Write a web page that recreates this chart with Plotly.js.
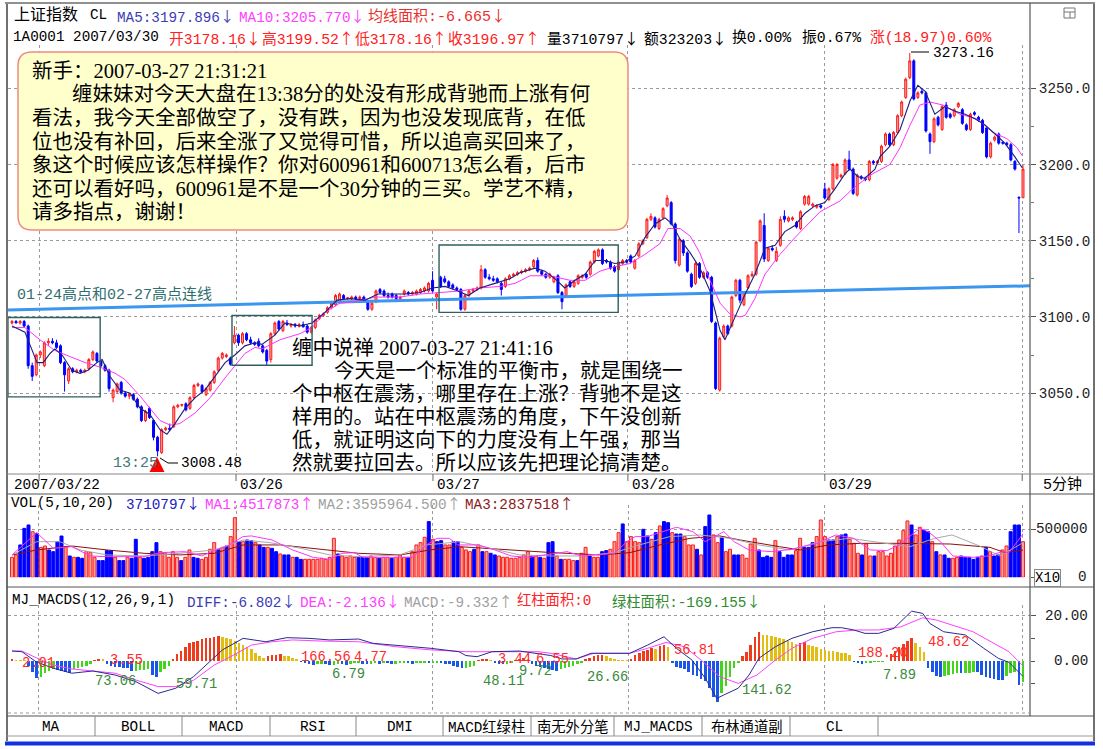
<!DOCTYPE html>
<html><head><meta charset="utf-8">
<script src="https://cdn.plot.ly/plotly-3.0.1.min.js"></script>
<style>html,body{margin:0;padding:0;background:#fff;}#chart{width:1103px;height:749px;}</style>
</head><body><div id="chart"></div>
<script>
// ---------- DATA (5-minute bars, 上证指数 2007/03/22 - 2007/03/30) ----------
const open = [3096,3097,3096,3097,3094,3068,3062,3075,3068,3083,
3084,3083,3081,3070,3058,3066,3064,3065,3064,3066,
3072,3076,3071,3068,3065,3047,3051,3057,3050,3048,
3049,3046,3041,3032,3040,3032,3021,3011,3026,3027,
3028,3041,3042,3043,3040,3047,3055,3055,3049,3052,
3057,3065,3073,3074,3073,3083,3088,3083,3089,3085,
3083,3084,3081,3078,3072,3089,3097,3091,3096,3094,
3095,3094,3095,3094,3090,3093,3099,3101,3103,3106,
3108,3110,3114,3112,3112,3113,3112,3113,3110,3105,
3110,3118,3117,3114,3115,3114,3112,3115,3116,3115,
3115,3116,3117,3117,3124,3113,3126,3125,3123,3121,
3119,3118,3105,3114,3117,3118,3119,3131,3126,3125,
3125,3122,3120,3125,3127,3128,3129,3130,3131,3133,
3137,3130,3128,3126,3123,3127,3116,3114,3123,3120,
3122,3126,3128,3128,3136,3140,3144,3137,3136,3133,
3131,3135,3137,3140,3132,3140,3148,3152,3164,3165,
3158,3165,3173,3175,3161,3134,3150,3142,3128,3122,
3135,3126,3129,3126,3096,3052,3087,3094,3094,3114,
3124,3108,3119,3127,3128,3150,3160,3137,3145,3137,
3147,3166,3163,3164,3162,3158,3174,3174,3173,3172,
3173,3184,3177,3184,3191,3192,3194,3203,3197,3180,
3192,3191,3190,3202,3201,3202,3213,3220,3213,3221,
3232,3244,3257,3268,3244,3248,3247,3220,3215,3231,
3223,3239,3233,3232,3238,3236,3226,3223,3234,3231,
3229,3224,3205,3216,3220,3214.5,3214,3213,3202,3178.5,
3178.16];
const high = [3098,3098,3098,3098,3095,3070,3076,3078,3084,3086,
3086,3085,3082,3071,3067,3067,3066,3066,3066,3073,
3078,3077,3072,3069,3066,3053,3057,3058,3051,3050,
3050,3047,3042,3039,3041,3033,3022,3027,3028,3030,
3042,3043,3043,3044,3048,3056,3057,3056,3054,3058,
3065,3074,3077,3076,3074,3094,3089,3090,3090,3087,
3084,3086,3082,3079,3090,3097,3098,3098,3098,3096,
3096,3096,3097,3095,3094,3099,3102,3103,3107,3110,
3115,3116,3115,3113,3114,3114,3114,3114,3111,3110,
3118,3119,3118,3116,3116,3115,3114,3118,3117,3117,
3118,3119,3120,3123,3130,3116,3127,3127,3124,3122,
3120,3119,3115,3118,3119,3120,3134,3132,3128,3127,
3126,3123,3126,3128,3129,3130,3131,3132,3133,3138,
3139,3131,3129,3129,3127,3128,3117,3122,3124,3124,
3128,3128,3129,3137,3144,3145,3145,3138,3137,3134,
3137,3138,3138,3141,3138,3149,3151,3165,3168,3166,
3165,3172,3180,3176,3162,3152,3151,3143,3129,3136,
3136,3130,3130,3127,3097,3087,3095,3095,3114,3125,
3125,3117,3128,3130,3150,3164,3168,3146,3147,3146,
3166,3170,3166,3166,3163,3170,3180,3180,3175,3174,
3174,3188,3185,3201,3201,3194,3204,3209,3198,3194,
3193,3192,3203,3203,3203,3213,3221,3221,3222,3233,
3242,3257,3273.16,3269,3248,3250,3248,3221,3231,3232,
3239,3241,3234,3237,3241,3237,3227,3234,3235,3232,
3230,3225,3215,3219,3221,3215,3215,3214,3203,3179,
3199.52];
const low = [3095,3096,3095,3093,3066,3058,3061,3073,3067,3081,
3082,3079,3069,3051,3056,3063,3063,3063,3063,3065,
3071,3070,3067,3064,3051,3044,3050,3049,3047,3046,
3045,3040,3031,3031,3033,3019,3008.48,3010,3025,3025,
3027,3040,3041,3038,3039,3046,3054,3050,3048,3051,
3056,3064,3072,3073,3068,3082,3081,3082,3084,3082,
3081,3080,3076,3068,3070,3088,3091,3090,3094,3093,
3093,3093,3093,3089,3089,3092,3098,3100,3102,3105,
3107,3109,3111,3111,3111,3111,3111,3110,3104,3104,
3109,3115,3113,3112,3112,3111,3111,3114,3114,3114,
3114,3115,3116,3116,3116,3105,3119,3122,3119,3118,
3117,3104,3104,3113,3116,3117,3118,3125,3124,3123,
3122,3114,3119,3124,3126,3127,3128,3129,3130,3132,
3129,3127,3125,3125,3122,3115,3105,3113,3119,3119,
3121,3125,3125,3127,3135,3139,3134,3135,3131,3129,
3130,3134,3135,3135,3131,3139,3147,3151,3163,3158,
3157,3164,3172,3160,3135,3133,3140,3129,3119,3121,
3125,3125,3125,3096,3052,3051,3086,3088,3093,3113,
3109,3107,3118,3126,3127,3149,3136,3136,3143,3136,
3146,3162,3162,3163,3158,3157,3173,3173,3172,3171,
3171,3177,3176,3183,3190,3191,3193,3196,3180,3179,
3190,3189,3189,3200,3200,3201,3212,3212,3212,3220,
3231,3243,3256,3242,3243,3246,3221,3207,3214,3225,
3222,3230,3230,3231,3237,3226,3222,3222,3232,3228,
3220,3204,3204,3215,3213,3213,3212,3202,3196,3155,
3178.16];
const close = [3097,3096,3097,3094,3068,3061,3075,3077,3083,3084,
3083,3080,3070,3062,3066,3064,3065,3064,3065,3072,
3077,3071,3068,3065,3053,3052,3056,3050,3048,3049,
3046,3041,3032,3038,3034,3021,3012,3026,3027,3026,
3041,3042,3042.5,3039,3047,3055,3056,3051,3053,3057,
3064,3073,3076,3075,3069,3088,3083,3089,3085,3083,
3082,3081,3077,3071,3089,3096,3092,3097,3095,3095,
3094,3095,3093.5,3090,3093,3098,3101,3102,3106,3109,
3114,3115,3112,3112.5,3113,3112,3113,3111,3105,3109,
3117,3116,3114,3113,3113,3112,3113,3117,3115,3116,
3117,3118,3119,3122,3117,3115,3120,3123,3120,3119,
3118,3105,3114,3117,3118,3119,3131,3126,3125,3124,
3123,3118,3125,3127,3128,3129,3130,3131,3132,3137,
3130,3128,3126,3128,3126,3116,3110,3121,3120,3123,
3127,3127,3126,3136,3143,3144,3135,3136,3132,3130,
3136,3137,3136,3136,3137,3148,3150,3164,3166,3159,
3164,3171,3178,3161,3137,3151,3142,3130,3120,3135,
3126,3129,3126,3097,3053,3086,3094,3089,3113,3124,
3111,3116,3127,3128,3149,3163,3138,3145,3144,3143,
3164,3164,3165,3165,3159,3169,3179,3179,3174,3173,
3172,3178,3184,3200,3200,3193,3203,3197,3181,3193,
3191,3190,3202,3201,3202,3212,3220,3213,3221,3232,
3241,3256,3268,3243,3247,3247,3222,3215,3230,3226,
3238,3231,3231,3236,3240,3227,3223,3233,3233,3229,
3221,3205,3214,3218,3214,3214,3213,3203,3197,3178,
3196.97];

// price moving averages (bar position, value)
const ma5Idx = [0,3.2,6.2,7.7,9.4,10.6,12.4,14.8,16.8,18.8,21,22.3,24.2,26.7,29.2,31.7,34.1,36.6,38.3,40.3,42.8,45.3,47.7,50.2,52.7,55.1,57.6,60.1,61.8,65,67.5,71.2,74.2,77.4,80.4,83.6,87.3,90.5,93.5,97.2,100.9,103.9,107.1,110.3,112.8,115.7,119.4,123.1,125.6,129.3,131.8,134.3,136.7,139.2,141.7,144.2,146.6,149.1,151.6,154.1,156.5,159,161.5,163.2,165.2,167.7,170.1,172.6,175.1,176.3,178.8,181.3,183.7,186.2,188.7,191.1,193.6,196.1,198.6,201,203.5,206,207.2,209.2,210.9,213.4,214.6,217.1,219.6,222.1,224,225.8,228.2,230.7,233.2,235.7,238.1,240.6,243.1,245.5,248,249.8];
const ma5Val = [3094,3090,3070,3070,3076,3079,3075,3065,3063,3065,3070,3072,3061,3052,3050,3040,3036,3026,3023,3030,3040,3047,3052,3061,3070,3075,3081,3083,3082,3088,3096,3094,3096,3103,3111,3112,3111,3115,3115,3115,3116,3119,3120,3117,3114,3119,3122,3125,3129,3132,3130,3125,3119,3124,3128,3137,3137,3135,3136,3140,3152,3161,3165,3161,3151,3142,3132,3117,3091,3085,3100,3115,3128,3145,3147,3156,3160,3168,3173,3175,3184,3194,3197,3192,3191,3197,3205,3212,3223,3242,3252,3248,3233,3238,3235,3233,3230,3226,3220,3214,3205,3197.896];
const ma10Idx = [0,3.2,6.9,10.6,14.3,18.1,21.8,25.5,27.9,31.7,34.1,36.6,39.1,41.5,45.3,49,52.7,55.1,57.6,60.1,61.8,66.3,71.2,74.2,77.4,81.1,84.8,89.8,95.9,100.9,105.8,110.8,115.7,120.7,124.4,128.1,133,138,141.7,145.4,149.1,152.8,156.5,160.2,162.2,165.2,167.7,170.1,172.6,175.1,177.5,180,181.3,183.7,186.2,189.9,193.6,197.3,199.8,204.7,207.9,212.2,217.1,219.6,222.1,224.5,227,230.2,234.4,238.6,242.6,246,248.5,249.8];
const ma10Val = [3093,3093,3085,3078,3074,3070,3067,3063,3059,3048,3040,3032,3029,3030,3037,3047,3060,3068,3076,3080,3079,3085,3089,3093,3103,3109,3110,3113,3113,3115,3116,3117,3119,3120,3122,3127,3127,3124,3124,3130,3133,3135,3141,3148,3158,3158,3153,3142,3124,3109,3102,3100,3101,3112,3128,3141,3152,3162,3169,3176,3184,3193,3200,3211,3226,3239,3241,3239,3233,3230,3221,3217,3211,3205.77];

// trend line: 01-24 high to 02-27 high
const trendIdx = [-1, 251.7];
const trendVal = [3104.6, 3120.4];

// volume (x10 shares, thousands) and rise flag
const volK = [208,233,337,510,545,475,458,312,326,285,
267,371,430,320,222,208,208,198,267,257,
208,174,174,278,278,208,174,174,208,198,
396,208,198,208,267,361,267,257,208,267,
208,174,208,285,208,198,187,208,292,361,
292,312,326,424,621,371,371,389,382,361,
337,312,312,302,267,243,233,233,208,208,
187,187,187,187,187,198,187,208,406,243,
222,208,222,208,208,208,208,222,208,198,
208,208,198,208,233,208,208,267,337,361,
417,580,396,371,382,337,337,371,371,312,
285,267,292,337,267,267,250,233,222,208,
208,198,198,208,233,267,222,222,208,198,
361,371,222,187,187,187,174,174,250,312,
222,208,208,267,278,292,371,465,556,371,
424,371,361,500,430,396,465,535,580,569,
465,451,451,424,337,337,292,233,528,649,
441,361,417,267,292,233,233,233,198,347,
406,285,208,222,208,382,267,208,233,233,
278,406,312,312,361,424,597,424,389,389,
424,441,451,396,354,250,233,347,222,222,
267,267,222,250,326,389,486,587,545,441,
521,493,475,371,267,233,233,198,198,208,
222,208,208,187,208,222,312,267,222,233,
285,326,475,545,545,371];
const volUp = [1,1,0,0,0,1,0,1,1,0, 0,0,0,1,0,1,0,0,1,1, 1,0,0,0,0,1,0,0,1,0, 0,1,0,0,0,0,1,1,1,1,
1,0,1,1,0,0,1,1,1,1, 0,1,0,1,1,0,1,0,0,1, 0,0,1,0,0,1,0,0,1,0, 0,1,1,1,1,1,1,1,1,0,
1,1,1,1,0,0,0,1,1,0, 1,1,0,1,1,1,0,1,1,1, 1,0,1,0,0,1,1,0,0,1, 1,1,0,1,0,1,0,0,1,1,
1,1,1,1,1,1,0,1,0,1, 0,0,1,0,1,1,1,0,1,1, 0,1,1,0,0,1,1,1,0,1, 1,1,1,0,0,1,0,1,0,0,
1,0,0,1,1,1,0,1,0,0, 1,1,0,1,1,0,0,1,1,1, 1,0,0,0,0,1,0,0,0,0, 1,1,0,0,0,1,1,1,0,0,
1,0,0,1,1,1,0,1,1,0, 1,1,1,1,1,1,1,1,0,1, 1,0,0,1,0,1,0,0,1,1, 0,0,0,0,0,1,0,1,0,0,
1,1,0,0,0,1];
const volMa1Idx = [0,6,10,14.5,19,23,32,36,42,46,49,52,56,58,63,68,73,77,80,83,85,97,100.5,103,106,108,113,117,121,125,131,134.5,138,142,146,149,151,154,158,161,165,168,172.5,175,178.6,184,189,195,199.7,204,208,212,215,220,222,225,228,233,236.5,240,241.6,245];
const volMa1K = [233,465,302,319,222,215,215,257,267,222,278,319,424,431,389,285,208,187,250,257,208,208,337,406,406,337,337,285,222,208,245,267,222,233,250,371,424,424,476,521,476,371,476,371,285,267,292,354,441,406,285,278,337,510,476,371,222,208,222,267,257,451.787];
const volMa2Idx = [0,6,11.6,16.5,23,32,40.7,49,56,62.5,70,77,84,94,100.5,108.5,116,123,131,138,146,152,159.4,166.7,174,181,188.5,195.8,203,210,217.6,223.6,227.8,234.5,239.4,245];
const volMa2K = [233,371,371,285,233,222,250,285,389,361,302,233,215,233,337,371,302,233,222,222,257,337,424,441,406,337,285,371,406,361,319,406,441,326,222,359.596];
const volMa3Idx = [0,6,14.5,23,32,40.7,49,56,65,77,84,94,101.3,108.5,118,131,142.5,149.7,157,164.3,171.5,176.4,186,191,198,205.5,215,227.3,237,240.6,245];
const volMa3K = [233,285,326,285,250,233,250,337,337,285,250,233,285,319,292,257,233,257,337,406,431,389,319,285,337,354,354,347,312,257,283.752];

// MJ_MACDS histogram and lines
const macd = [0.8,0.6,0.5,0.3,-2,-5,-7.6,-7,-5.4,-4.5,
-3.5,-4,-4.5,-5,-5.2,-3.5,-3,-2.5,-2,-1.5,
0.5,1,0.8,-1.5,-2,-2.5,-2.8,-3,-3.2,-4.5,
-4.2,-4,-3.8,-3.5,-6,-7,-5,-3.5,-2,1,
3,4.5,6,8,8.5,9,9.5,10,10.3,10.7,
10.9,10.5,10,9.5,8.8,8,7,6.2,5.4,3.5,
2.2,1.5,2,2.5,2.8,3,2.4,2,1.5,1,
-0.5,-1,-1.5,-1.8,-1.5,-1.2,-1.5,-1.8,-1.6,-1.4,
-1.5,-1.6,-1.3,-1.1,-1,-1.2,-1.4,-1.3,-1.1,-1.2,
-1,-1.1,-1.3,-1.2,-1,-0.9,-1,-1.2,-1.1,-1,
-0.9,-1.1,-1,-0.8,-1,-1.3,-1.5,-2,-2.5,-3.2,
-3,-2.8,-2,0.5,0.8,1,0.6,-0.8,-1.2,-1.5,
-1.4,-1,0.5,1,1.2,0.8,-1.5,-2,-2.5,-3,
-3.5,-4,-4.2,-3.5,-3,-2.5,-2,-1.5,-1,0.8,
1.5,2,2.5,2.8,2.2,1.5,1,0.6,0.4,0.3,
1,2.6,3.5,4.2,5,5.6,5.2,6.5,7.2,6,
-1,-2.5,-3,-3.5,-5,-6,-6.5,-8,-9,-12,
-16,-18.2,-14,-11,-7,-3,-1,2,4,7,
10.5,13,11.5,11.3,11,10.5,10,9.6,9,8.5,
7.6,8,8.3,7,6.5,6,5.5,5,4.6,4.3,
4,3.7,3.4,2.5,-0.5,-1,-1.2,-1,-0.8,-0.6,
-0.4,-0.3,-0.2,3,4.5,6,7.5,9,10,7.8,
6,4,-3,-5,-6.5,-7,-6.5,-6,-5.8,-5.5,
-5.5,-5.3,-5.2,-5,-5,-6,-7,-7.5,-8,-8.4,
-8.6,-6.5,-5.5,-5,-10.6,-9.332];
const diffIdx = [0,2.4,5.8,10,14.5,19.6,25,30,35.4,39.7,44,47.5,51,56,61.5,66.6,72,77,84,87.5,92.8,101.5,108.3,110,112.7,116.3,123,130.6,133.3,136.7,140.3,145.4,149.7,154,158,161,164.8,168,170.8,172.5,176,178.6,181,185,189,194,198.7,201,204,206.7,210,213.7,218,220.7,222.4,225.8,231,235.5,239,241.6,245];
const diffVal = [4.4,4.1,-0.3,-3.2,-5.4,-4.4,-6.2,-9.1,-14.3,-12,-6.9,-1,4.9,10,8.5,10.3,10,9.3,9.7,7.8,7,5.6,4.1,2.4,1.9,4.1,4.4,2.4,0.9,0.9,3.4,3.4,3.4,7,10.7,5.6,0.4,-7.6,-16.5,-15,-12,-6.2,1.2,6.3,10,12.9,14.7,14.7,13.7,12.2,12.2,14.4,22,21,16.6,12.9,11.5,5.6,1.2,-0.6,-6.802];
const deaIdx = [0,2.4,5.8,10,14.5,19.6,25,30,35.4,39.7,44,49,53,58,63,68,75,84,93,101.5,110,119,127.5,130.6,136.7,141,149.7,154,158.5,163,167,171.5,176,180.5,185,189,194,199.7,205,210,215.4,220.7,224,232.9,241.6,245];
const deaVal = [4.4,4.4,1.5,-1.8,-3.5,-4.4,-5.4,-8.4,-11.3,-11.3,-8.5,-1.8,1.9,7,8.5,9.3,8.8,8.5,6.3,4.9,4.1,4.1,4.1,3.4,0.9,3.4,3.4,5.6,8.2,6.3,0.4,-6.9,-9.9,-6.2,0.4,5.6,10,12.9,13.7,13.7,15.1,19.1,18.1,12.9,4.1,-2.136];
const macdLabels = ['2.01','3.55','73.06','59.71','166.56','4.77','6.79','48.11','3.44','6.55','9.72','26.66','56.81','141.62','188.20','48.62','7.89'];
const macdLabelRed = [1,1,0,0,1,1,0,0,1,1,0,0,1,0,1,1,0];

// day boundaries (bar positions) and labels
const dayPrice = [6.7, 55.4, 104.1, 152.3, 201, 249.8];
const dayVol = [6.5, 54.3, 102.0, 149.3, 197.0, 244.8];
const dayLabels = ['2007/03/22', '03/26', '03/27', '03/28', '03/29'];
const priceTicks = [3050, 3100, 3150, 3200, 3250];

// ---------- LAYOUT HELPERS ----------
const W = 1103, H = 749;
const X = v => v / W, Y = v => 1 - v / H;
const MONO = '"Liberation Mono","Noto Sans CJK SC",monospace';
const SER = '"Liberation Serif","Noto Sans CJK SC",serif';
const anns = [], shapes = [];
const AR = s => s.replace(/([↓↑])/g, "<span style=\"font-family:'Noto Sans CJK SC'\">$1</span>");
function T(text, x, y, color, size, anchor, family) {
  anns.push({text: AR(text), x: X(x), y: Y(y), xref: 'paper', yref: 'paper', showarrow: false,
    xanchor: anchor || 'left', yanchor: 'middle', font: {family: family || MONO, size: size || 14.3, color: color || '#000'}});
}
function Ln(x0, y0, x1, y1, color, width, dash) {
  shapes.push({type: 'line', xref: 'paper', yref: 'paper', x0: X(x0), y0: Y(y0), x1: X(x1), y1: Y(y1),
    line: {color: color, width: width || 1, dash: dash || 'solid'}, layer: 'above'});
}
function roundRect(x0, y0, x1, y1, r) {
  const rx = r / W, ry = r / H;
  const a = X(x0), b = X(x1), t = Y(y0), u = Y(y1);
  return `M ${a + rx},${t} L ${b - rx},${t} Q ${b},${t} ${b},${t - ry} L ${b},${u + ry} Q ${b},${u} ${b - rx},${u} L ${a + rx},${u} Q ${a},${u} ${a},${u + ry} L ${a},${t - ry} Q ${a},${t} ${a + rx},${t} Z`;
}

const spP = (1023 - 12) / (open.length - 1);
const spV = (1023 - 12) / (volK.length - 1);
const pval = y => 3250 - (y - 88.3) / 1.524;
const barIdx = open.map((_, i) => i);
const volIdx = volK.map((_, i) => i);

// ---------- TRACES ----------
const RED = '#ff1a1a', PINK = '#f6a39a', BLUE = '#0000ff';
const traces = [];
traces.push({type: 'scatter', mode: 'lines', x: trendIdx, y: trendVal, xaxis: 'x', yaxis: 'y',
  line: {color: '#3a96ee', width: 3}, hoverinfo: 'skip'});
traces.push({type: 'candlestick', x: barIdx, open: open, high: high, low: low, close: close,
  xaxis: 'x', yaxis: 'y', whiskerwidth: 0, hoverinfo: 'skip',
  increasing: {line: {color: RED, width: 1}, fillcolor: PINK},
  decreasing: {line: {color: BLUE, width: 1}, fillcolor: BLUE}});
traces.push({type: 'scatter', mode: 'lines', x: ma10Idx, y: ma10Val, xaxis: 'x', yaxis: 'y',
  line: {color: '#ff33ff', width: 1}, hoverinfo: 'skip'});
traces.push({type: 'scatter', mode: 'lines', x: ma5Idx, y: ma5Val, xaxis: 'x', yaxis: 'y',
  line: {color: '#1e1e7a', width: 1.1}, hoverinfo: 'skip'});

traces.push({type: 'bar', x: volIdx, y: volK.map(v => v * 1000), xaxis: 'x2', yaxis: 'y2', width: 0.72,
  marker: {color: volUp.map(u => u ? PINK : BLUE), line: {color: volUp.map(u => u ? RED : BLUE), width: 1}},
  hoverinfo: 'skip'});
traces.push({type: 'scatter', mode: 'lines', x: volMa3Idx, y: volMa3K.map(v => v * 1000), xaxis: 'x2', yaxis: 'y2',
  line: {color: '#8b1010', width: 1}, hoverinfo: 'skip'});
traces.push({type: 'scatter', mode: 'lines', x: volMa2Idx, y: volMa2K.map(v => v * 1000), xaxis: 'x2', yaxis: 'y2',
  line: {color: '#a8a8a8', width: 1}, hoverinfo: 'skip'});
traces.push({type: 'scatter', mode: 'lines', x: volMa1Idx, y: volMa1K.map(v => v * 1000), xaxis: 'x2', yaxis: 'y2',
  line: {color: '#ff33ff', width: 1}, hoverinfo: 'skip'});

const macdColors = macd.map((v, i) => {
  const p = i ? macd[i - 1] : 0;
  if (v >= 0) return v >= p ? '#ef3b1c' : '#e3bd10';
  return v <= p ? '#1a56e8' : '#44d41e';
});
traces.push({type: 'bar', x: volIdx, y: macd, xaxis: 'x3', yaxis: 'y3', width: 0.62,
  marker: {color: macdColors, line: {width: 0}}, hoverinfo: 'skip'});
traces.push({type: 'scatter', mode: 'lines', x: deaIdx, y: deaVal, xaxis: 'x3', yaxis: 'y3',
  line: {color: '#ff40ff', width: 1}, hoverinfo: 'skip'});
traces.push({type: 'scatter', mode: 'lines', x: diffIdx, y: diffVal, xaxis: 'x3', yaxis: 'y3',
  line: {color: '#2a2a90', width: 1}, hoverinfo: 'skip'});

// ---------- AXES ----------
const xdom = [X(8), X(1030)];
const gridX = {showgrid: true, griddash: 'dot', gridcolor: '#9a9a9a', gridwidth: 1, tickmode: 'array',
  showticklabels: false, ticks: '', zeroline: false, showline: false, fixedrange: true};
const layout = {
  width: W, height: H, margin: {l: 0, r: 0, t: 0, b: 0}, paper_bgcolor: '#fff', plot_bgcolor: '#fff',
  showlegend: false, hovermode: false, bargap: 0, font: {family: MONO},
  xaxis: Object.assign({}, gridX, {domain: xdom, anchor: 'y', range: [(8 - 12) / spP, (1030 - 12) / spP],
    tickvals: dayPrice, rangeslider: {visible: false}}),
  xaxis2: Object.assign({}, gridX, {domain: xdom, anchor: 'y2', range: [(8 - 12) / spV, (1030 - 12) / spV], tickvals: dayVol}),
  xaxis3: Object.assign({}, gridX, {domain: xdom, anchor: 'y3', range: [(8 - 12) / spV, (1030 - 12) / spV], tickvals: dayVol}),
  yaxis: {domain: [Y(472), Y(45)], range: [pval(472), pval(45)], side: 'right', anchor: 'x',
    tickmode: 'array', tickvals: priceTicks, tickformat: '.1f', showgrid: true, griddash: 'dot', gridcolor: '#9a9a9a',
    ticks: 'outside', ticklen: 5, tickcolor: '#555', zeroline: false, showline: false,
    tickfont: {family: MONO, size: 14.3, color: '#222'},
    minor: {tickvals: [3075, 3125, 3175, 3225], ticks: 'outside', ticklen: 3, tickcolor: '#777', showgrid: false},
    fixedrange: true},
  yaxis2: {domain: [Y(577.3), Y(505)], range: [0, (577.3 - 505) / 48 * 500000], side: 'right', anchor: 'x2',
    tickmode: 'array', tickvals: [500000], showticklabels: false, showgrid: true, griddash: 'dot', gridcolor: '#9a9a9a',
    ticks: 'outside', ticklen: 5, tickcolor: '#555', zeroline: false, showline: false,
    minor: {tickvals: [0], ticks: 'outside', ticklen: 5, tickcolor: '#555', showgrid: false}, fixedrange: true},
  yaxis3: {domain: [Y(713), Y(605)], range: [(661 - 713) / 2.265, (661 - 605) / 2.265], side: 'right', anchor: 'x3',
    tickmode: 'array', tickvals: [20], showticklabels: false, showgrid: true, griddash: 'dot', gridcolor: '#9a9a9a',
    ticks: 'outside', ticklen: 5, tickcolor: '#555', zeroline: false, showline: false,
    minor: {tickvals: [-10, 0, 10], ticks: 'outside', ticklen: 4, tickcolor: '#555', showgrid: false}, fixedrange: true},
  annotations: anns, shapes: shapes
};

// ---------- FRAME ----------
Ln(7, 3, 7, 741, '#707070', 2);
Ln(1094, 3, 1094, 741, '#707070', 2);
Ln(5, 3, 1095, 3, '#909090', 2);
Ln(1030, 3, 1030, 716, '#555', 1.2);
Ln(7, 474, 1094, 474, '#888', 1);
Ln(7, 494, 1094, 494, '#555', 1.2);
Ln(7, 587, 1094, 587, '#555', 1.2);
Ln(7, 716, 1094, 716, '#555', 1.2);
Ln(7, 736, 1094, 736, '#999', 1);
Ln(8, 713, 1030, 713, '#9a9a9a', 1, 'dot');
[95, 182, 270, 356, 443, 531, 614, 702, 790, 878].forEach(x => Ln(x, 716, x, 736, '#888', 1));
Ln(5, 743.5, 1095, 743.5, '#1530e0', 4);
shapes.push({type: 'rect', xref: 'paper', yref: 'paper', x0: X(1064), x1: X(1075), y0: Y(18), y1: Y(8), line: {color: '#777', width: 1}});
Ln(1064, 12, 1075, 12, '#777', 1);
Ln(1070, 12, 1070, 18, '#777', 1);
// day ticks in date row
dayPrice.forEach(d => shapes.push({type: 'line', xref: 'x', yref: 'paper', x0: d, x1: d, y0: Y(474), y1: Y(481), line: {color: '#666', width: 1}}));

// annotation boxes on price chart
[[-1, 21.8, 3047.5, 3099.6], [54.4, 74.2, 3068.3, 3100.9], [105.6, 149.9, 3103, 3147.2]].forEach(b =>
  shapes.push({type: 'rect', xref: 'x', yref: 'y', x0: b[0], x1: b[1], y0: b[2], y1: b[3],
    line: {color: '#2f5f5f', width: 1.4}, fillcolor: 'rgba(0,0,0,0)', layer: 'above'}));
// comment bubble
shapes.push({type: 'path', xref: 'paper', yref: 'paper', path: roundRect(18, 52, 628, 230, 14),
  fillcolor: '#ffffcc', line: {color: '#f08a80', width: 1.5}, layer: 'above'});
// peak / low markers
Ln(911, 52, 929, 52, '#000', 1);
shapes.push({type: 'path', xref: 'paper', yref: 'paper',
  path: `M ${X(160)},${Y(458)} L ${X(168)},${Y(463)} L ${X(178)},${Y(463)}`, line: {color: '#000', width: 1}, layer: 'above'});
anns.push({x: X(157), y: Y(457), ax: X(157), ay: Y(471), xref: 'paper', yref: 'paper', axref: 'paper', ayref: 'paper',
  showarrow: true, arrowhead: 2, arrowsize: 1, arrowwidth: 3, arrowcolor: '#ff0000', text: ''});

// ---------- TEXT ----------
// header row 1
T('上证指数', 12, 15, '#000', 16);
T('CL', 88, 15, '#000');
T('MA5:3197.896↓', 115, 15, '#3c3cb4');
T('MA10:3205.770↓', 237, 15, '#ff40ff');
T('均线面积:-6.665↓', 366, 15, '#e8302c', 15);
// header row 2 (segments placed as in the reference)
T('1A0001 2007/03/30', 11, 37, '#000');
[['开3178.16↓', 167], ['高3199.52↑', 260], ['低3178.16↑', 353], ['收3196.97↑', 446]].forEach(s => T(s[0], s[1], 37, '#ff2020', 14.8));
[['量3710797↓', 545], ['额323203↓', 642], ['换0.00%', 730], ['振0.67%', 800]].forEach(s => T(s[0], s[1], 37, '#000', 14.8));
T('涨(18.97)0.60%', 868, 37, '#ff2020', 14.8);

// comment 1
const box1 = ['新手：2007-03-27 21:31:21',
  '缠妹妹对今天大盘在13:38分的处没有形成背驰而上涨有何',
  '看法，我今天全部做空了，没有跌，因为也没发现底背，在低',
  '位也没有补回，后来全涨了又觉得可惜，所以追高买回来了，',
  '象这个时候应该怎样操作？你对600961和600713怎么看，后市',
  '还可以看好吗，600961是不是一个30分钟的三买。学艺不精，',
  '请多指点，谢谢！'];
box1.forEach((s, k) => T(s, k === 1 ? 70 : 30, 71 + k * 23.5, '#000', 20.5, 'left', SER));
// comment 2
const box2 = ['缠中说禅 2007-03-27 21:41:16',
  '今天是一个标准的平衡市，就是围绕一',
  '个中枢在震荡，哪里存在上涨？背驰不是这',
  '样用的。站在中枢震荡的角度，下午没创新',
  '低，就证明这向下的力度没有上午强，那当',
  '然就要拉回去。所以应该先把理论搞清楚。'];
box2.forEach((s, k) => T(s, k === 1 ? 332 : 290, 348 + k * 23, '#000', 20.5, 'left', SER));

T('01-24高点和02-27高点连线', 15, 295, '#2e6e6e', 15);
T('3273.16', 931, 53, '#000', 14.5);
T('13:25', 111, 463, '#3f7a7a', 15);
T('3008.48', 179, 463, '#000', 14.5);

// date row
T(dayLabels[0], 12, 485, '#000');
dayLabels.slice(1).forEach((s, k) => anns.push({text: s, x: dayPrice[k + 1], xref: 'x', y: Y(485), yref: 'paper',
  xanchor: 'left', yanchor: 'middle', xshift: 2, showarrow: false, font: {family: MONO, size: 14.3, color: '#000'}}));
T('5分钟', 1062, 485, '#000', 15, 'center');

// volume header + labels
T('VOL(5,10,20)', 9, 503, '#000');
T('3710797↓', 124, 503, '#2020c0');
T('MA1:4517873↑', 203, 503, '#ff40ff');
T('MA2:3595964.500↑', 316, 503, '#a0a0a0');
T('MA3:2837518↑', 463, 503, '#8b1a1a');
T('500000', 1089, 529, '#222', 14.3, 'right');
T('0', 1089, 577, '#222', 14.3, 'right');
anns.push({text: 'X10', x: X(1047), y: Y(578), xref: 'paper', yref: 'paper', showarrow: false, xanchor: 'center', yanchor: 'middle',
  font: {family: MONO, size: 14, color: '#000'}, bordercolor: '#888', borderwidth: 1, borderpad: 0, bgcolor: '#fff'});

// MACD header + labels
T('MJ_MACDS(12,26,9,1)', 10, 600, '#000');
T('DIFF:-6.802↓', 185, 600, '#3c3cb4');
T('DEA:-2.136↓', 298, 600, '#ff40ff');
T('MACD:-9.332↑', 402, 600, '#a0a0a0');
T('红柱面积:0', 515, 600, '#ff2020');
T('绿柱面积:-169.155↓', 610, 600, '#2e8b2e');
T('20.00', 1090, 616, '#222', 14.3, 'right');
T('0.00', 1090, 661, '#222', 14.3, 'right');
const lblPos = [[20, 663], [108, 660], [93, 681], [174, 684], [299, 657], [352, 657], [330, 674], [481, 681], [496, 659],
  [534, 659], [517, 671], [585, 677], [672, 650], [740, 690], [856, 653], [926, 642], [881, 675]];
macdLabels.forEach((s, k) => T(s, lblPos[k][0], lblPos[k][1], macdLabelRed[k] ? '#ff2a2a' : '#3a8a3a', 13.8));

// tabs
[['MA', 51], ['BOLL', 138], ['MACD', 226], ['RSI', 313], ['DMI', 400], ['MACD红绿柱', 487], ['南无外分笔', 572],
 ['MJ_MACDS', 658], ['布林通道副', 746], ['CL', 834]].forEach(t => T(t[0], t[1], 727, '#000', 14.3, 'center'));

Plotly.newPlot('chart', traces, layout, {staticPlot: true, displayModeBar: false});
</script></body></html>
